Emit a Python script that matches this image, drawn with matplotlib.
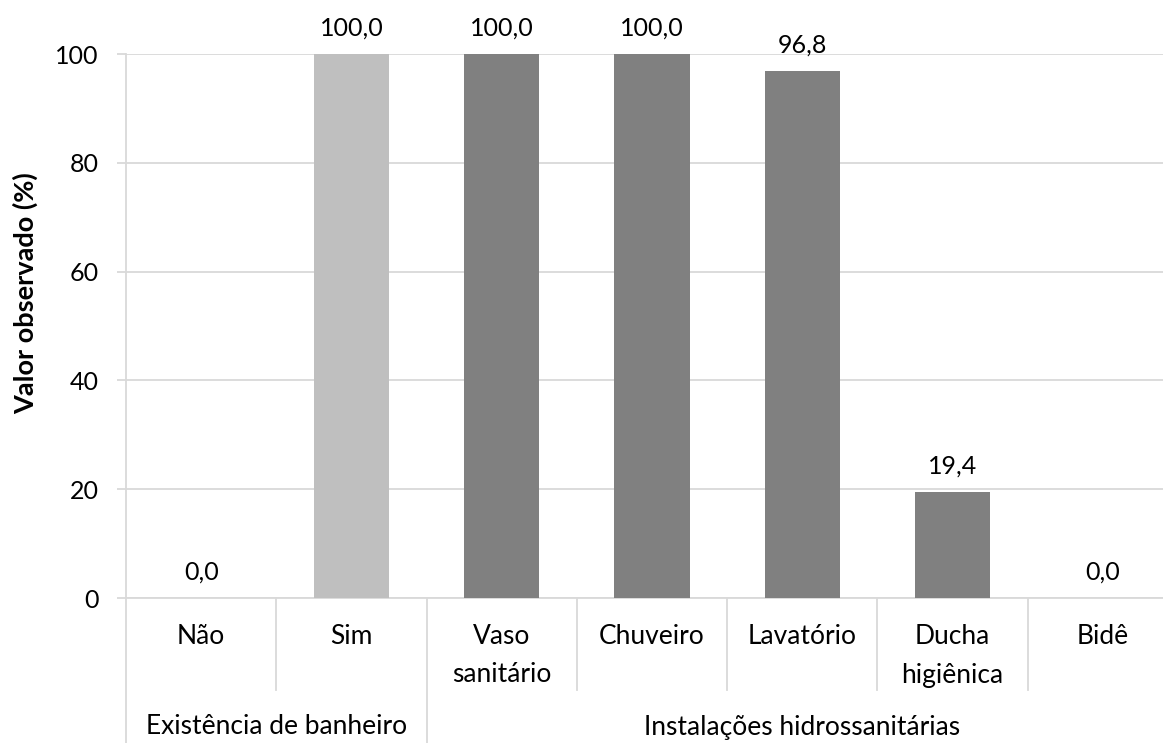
import matplotlib.pyplot as plt
from matplotlib.lines import Line2D

plt.rcParams['font.family'] = ['Lato', 'DejaVu Sans']

# data
categories = ['Não', 'Sim', 'Vaso\nsanitário', 'Chuveiro', 'Lavatório',
              'Ducha\nhigiênica', 'Bidê']
values = [0.0, 100.0, 100.0, 100.0, 96.8, 19.4, 0.0]
bar_colors = ['#BFBFBF', '#BFBFBF', '#808080', '#808080', '#808080',
              '#808080', '#808080']
groups = ['Existência de banheiro', 'Instalações hidrossanitárias']
group_sizes = [2, 5]
y_ticks = [0, 20, 40, 60, 80, 100]

FS = 18
FS_CAT = 19
GRID = '#D9D9D9'

fig = plt.figure(figsize=(11.63, 7.43), dpi=100)
# axes runs a bit past the right edge, like the cropped original
ax = fig.add_axes([126 / 1163, 145 / 743, 1052 / 1163, 544 / 743])

x = list(range(len(categories)))
ax.bar(x, values, width=0.5, color=bar_colors, zorder=3)

for xi, v in zip(x, values):
    ax.annotate(('%.1f' % v).replace('.', ','), (xi, v),
                xytext=(0, 19), textcoords='offset points',
                ha='center', va='center', fontsize=FS)

ax.set_xlim(-0.5, len(categories) - 0.5)
ax.set_ylim(0, 100)
ax.set_yticks(y_ticks)
ax.set_yticklabels([str(t) for t in y_ticks], fontsize=FS)
ax.yaxis.grid(True, color=GRID, linewidth=1.3, zorder=0)
ax.tick_params(axis='y', length=6.5, width=1.3, color=GRID, pad=13)
ax.set_xticks([])
for s in ['top', 'right']:
    ax.spines[s].set_visible(False)
for s in ['left', 'bottom']:
    ax.spines[s].set_color(GRID)
    ax.spines[s].set_linewidth(1.3)

ax.text((25 - 126) / 1052, (598 - 293) / 544, 'Valor observado (%)',
        transform=ax.transAxes, rotation=90, ha='center', va='center',
        fontsize=19.5, fontweight='bold')

# multi-level category axis
px = 1 / 544.0  # one pixel in axes fraction (vertical)
trans = ax.get_xaxis_transform()
for xi, lab in zip(x, categories):
    for k, line in enumerate(lab.split('\n')):
        ax.text(xi, -(39 + 38 * k) * px, line, transform=trans,
                ha='center', va='center', fontsize=FS_CAT)

edges = [i - 0.5 for i in range(len(categories) + 1)]
group_edges = [-0.5]
for n in group_sizes:
    group_edges.append(group_edges[-1] + n)
for e in edges:
    bottom = -145 * px if e in group_edges else -92 * px
    ax.add_line(Line2D([e, e], [0, bottom], transform=trans, color=GRID,
                       linewidth=1.3, clip_on=False))

for g, a, b in zip(groups, group_edges[:-1], group_edges[1:]):
    ax.text((a + b) / 2, -129 * px, g, transform=trans,
            ha='center', va='center', fontsize=FS_CAT)

fig.savefig('out.png', dpi=100)
